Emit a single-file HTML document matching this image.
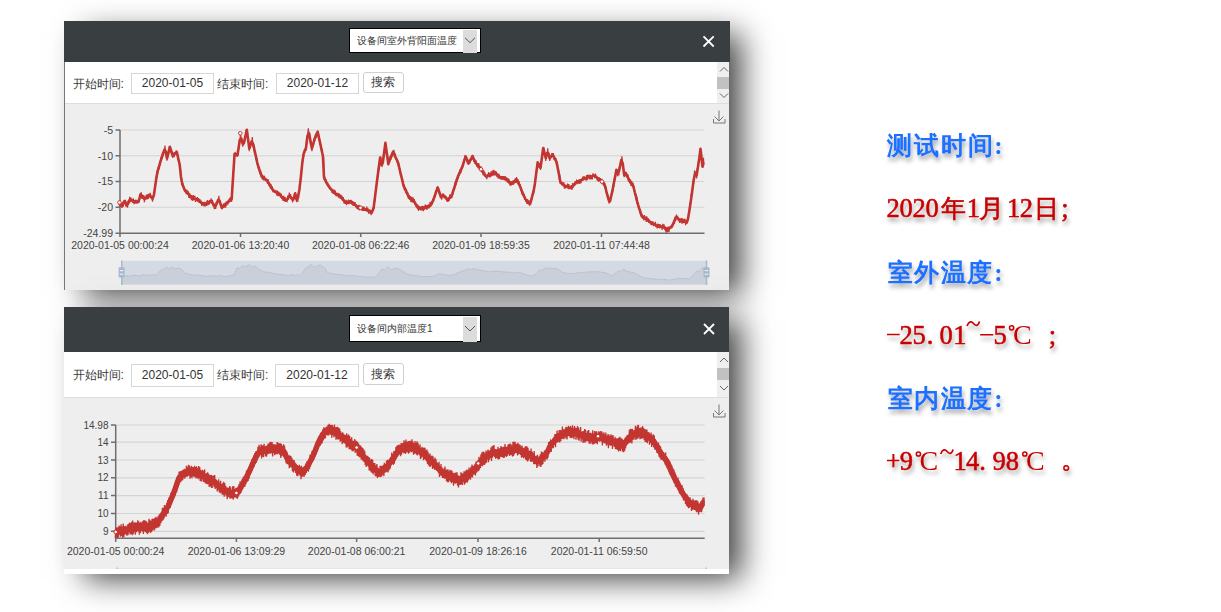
<!DOCTYPE html>
<html><head><meta charset="utf-8">
<style>
*{box-sizing:border-box;margin:0;padding:0}
html,body{width:1221px;height:612px;overflow:hidden;background:#fff}
body{position:relative;font-family:"Liberation Sans",sans-serif;color:#333}
.win{position:absolute;left:64px;width:665px;background:#eee;box-shadow:16px 9px 30px -4px rgba(0,0,0,0.75)}
.hd{position:absolute;left:0;top:0;width:666px;background:#393e41}
.sel{position:absolute;left:285px;width:132px;background:#fff;border:1px solid #000;font-size:10px;color:#333;white-space:nowrap}
.sel span{position:absolute;left:7px}
.arr{position:absolute;left:113px;width:14px;top:1px;bottom:-1px;background:#dcdcdc}
.tb{position:absolute;left:0;width:665px;background:#fff;border-bottom:1px solid #dedede}
.lbl{position:absolute;font-size:12px;color:#3c3c3c;white-space:nowrap}
.inp{position:absolute;border:1px solid #d6d6d6;background:#fff;font-size:12px;color:#333;text-align:center}
.btn{position:absolute;border:1px solid #d0d0d0;border-radius:3px;background:#fff;font-size:12px;color:#3c3c3c;text-align:center}
.sb{position:absolute;left:653px;width:12px;background:#efefef}
.thumb{position:absolute;left:0;width:12px;background:#c1c1c1}
.red{fill:#c80000;stroke:#c80000;stroke-width:0.55px;font-family:"Liberation Serif",serif;font-size:26.5px;font-weight:normal;text-anchor:middle}
.redk{fill:#c80000;stroke:#c80000;stroke-width:0.6px;font-family:"Liberation Serif",serif;font-size:25px;font-weight:500;text-anchor:middle}
svg{position:absolute;left:0;top:0}
.blue{fill:#1f6fff;font-family:"Liberation Serif",serif;font-size:25px;font-weight:bold;text-anchor:middle}
.redc{fill:#c80000;font-family:"Liberation Serif",serif;font-size:28px;text-anchor:middle}
</style></head><body>

<div class="win" style="top:21px;height:269px">
  <div class="hd" style="height:41px"></div>
  <div class="sel" style="top:7px;height:25px;line-height:23px"><span>设备间室外背阳面温度</span><div class="arr"></div></div>
  <div class="tb" style="top:41px;height:42px"></div>
  <div style="position:absolute;left:0;top:41px;width:1px;height:228px;background:#777"></div>
  <div class="lbl" style="left:8.5px;top:53px;line-height:20px">开始时间:</div>
  <div class="inp" style="left:67px;top:52px;width:83px;height:21px;line-height:19px">2020-01-05</div>
  <div class="lbl" style="left:153px;top:53px;line-height:20px">结束时间:</div>
  <div class="inp" style="left:212px;top:52px;width:83px;height:21px;line-height:19px">2020-01-12</div>
  <div class="btn" style="left:298.5px;top:51px;width:41px;height:21px;line-height:19px">搜索</div>
  <div class="sb" style="top:41px;height:41px"><div class="thumb" style="top:15px;height:12px"></div></div>
</div>

<div class="win" style="top:307px;height:267px">
  <div class="hd" style="height:45px;width:665px"></div>
  <div class="sel" style="top:8px;height:27px;line-height:25px"><span>设备间内部温度1</span><div class="arr"></div></div>
  <div class="tb" style="top:45px;height:46px"></div>
  <div class="lbl" style="left:8.5px;top:58px;line-height:20px">开始时间:</div>
  <div class="inp" style="left:67px;top:57px;width:83px;height:23px;line-height:21px">2020-01-05</div>
  <div class="lbl" style="left:153px;top:58px;line-height:20px">结束时间:</div>
  <div class="inp" style="left:211px;top:57px;width:84px;height:23px;line-height:21px">2020-01-12</div>
  <div class="btn" style="left:298.5px;top:56px;width:41px;height:22px;line-height:20px">搜索</div>
  <div class="sb" style="top:45px;height:45px"><div class="thumb" style="top:16px;height:12px"></div></div>
  <div style="position:absolute;left:0;top:262px;width:665px;height:5px;background:#fff"></div>
</div>

<svg width="1221" height="612" viewBox="0 0 1221 612" font-family="Liberation Sans, sans-serif">
  <!-- header icons -->
  <g stroke="#fff" stroke-width="1.8" stroke-linecap="butt">
    <path d="M703.5,36.3 L713.7,46.5 M713.7,36.3 L703.5,46.5"/>
    <path d="M704,324 L714,334 M714,324 L704,334"/>
  </g>
  <g stroke="#555" stroke-width="1" fill="none">
    <path d="M465,37.8 L470,42.6 L475,37.8"/>
    <path d="M465,326 L470,331 L475,326"/>
  </g>
  <!-- scrollbar chevrons -->
  <g stroke="#666" stroke-width="1" fill="none">
    <path d="M720,71.5 L724,67.5 L728,71.5"/>
    <path d="M720,93.5 L724,97.5 L728,93.5"/>
    <path d="M720,362 L724,358 L728,362"/>
    <path d="M720,386 L724,390 L728,386"/>
  </g>
  <!-- download icons -->
  <g stroke="#777" stroke-width="1" fill="none">
    <path d="M719,110.5 L719,121 M714.5,116.5 L719,121 L723.5,116.5 M713.5,119 L713.5,123 L725,123 L725,119"/>
    <path d="M719,404.5 L719,415 M714.5,410.5 L719,415 L723.5,410.5 M713.5,413 L713.5,417 L725,417 L725,413"/>
  </g>

  <!-- chart1 grid -->
  <g stroke="#d3d3d3" stroke-width="1.2">
    <path d="M120,130 H704.5 M120,155.75 H704.5 M120,181.5 H704.5 M120,207.25 H704.5"/>
  </g>
  <g stroke="#6e6e6e" stroke-width="1.5" fill="none">
    <path d="M120,130 V233.2 H704.5"/>
    <path d="M115.5,130 H120 M115.5,155.75 H120 M115.5,181.5 H120 M115.5,207.25 H120 M115.5,233.2 H120"/>
    <path d="M120,233.2 V237 M240.5,233.2 V237 M360.7,233.2 V237 M481,233.2 V237 M601.5,233.2 V237"/>
  </g>
  <g font-size="10.5" fill="#444" text-anchor="end">
    <text x="113" y="133.7">-5</text>
    <text x="113" y="159.5">-10</text>
    <text x="113" y="185.2">-15</text>
    <text x="113" y="211">-20</text>
    <text x="113" y="237.2">-24.99</text>
  </g>
  <g font-size="10.5" fill="#444" text-anchor="middle">
    <text x="120" y="249">2020-01-05 00:00:24</text>
    <text x="240.5" y="249">2020-01-06 13:20:40</text>
    <text x="360.7" y="249">2020-01-08 06:22:46</text>
    <text x="481" y="249">2020-01-09 18:59:35</text>
    <text x="601.5" y="249">2020-01-11 07:44:48</text>
  </g>
  <!-- slider -->
  <rect x="121.7" y="260.8" width="584.8" height="23.6" fill="#d3dae4"/>
  <path d="M121.7,284.4 L121.7,275.9 L124.3,276.4 L127.2,275.6 L129.2,276.5 L132.1,275.3 L137.0,275.6 L140.9,275.8 L142.9,274.6 L146.8,275.3 L152.7,274.7 L155.6,275.3 L159.6,271.2 L163.5,269.1 L167.4,267.3 L169.4,269.0 L172.3,267.2 L175.2,268.7 L179.2,268.1 L182.1,270.0 L184.1,272.7 L188.0,274.1 L193.9,275.0 L199.8,275.3 L203.2,275.8 L206.6,276.2 L210.0,275.9 L213.5,275.6 L217.4,276.5 L221.2,275.3 L224.2,276.7 L227.6,276.2 L231.0,275.6 L234.0,275.2 L236.9,268.2 L239.8,268.5 L242.8,265.5 L245.7,267.0 L249.1,264.6 L251.6,267.4 L254.6,266.1 L257.5,268.2 L260.2,270.0 L264.2,271.9 L269.1,272.3 L272.0,273.1 L275.9,274.0 L279.4,274.3 L282.8,274.7 L288.7,275.6 L291.6,274.7 L295.5,275.5 L297.5,274.4 L299.5,275.8 L302.4,273.1 L305.3,268.5 L308.3,267.3 L310.6,264.4 L314.2,267.4 L317.1,265.9 L320.0,264.9 L323.0,267.0 L325.9,269.1 L326.3,271.9 L329.8,273.1 L335.7,274.3 L341.6,274.7 L347.5,275.8 L353.4,275.6 L359.3,276.4 L365.1,277.0 L369.1,277.0 L374.0,277.4 L375.9,276.7 L379.8,271.9 L382.4,268.8 L384.4,270.5 L387.7,266.7 L390.6,269.9 L395.5,267.9 L400.4,269.7 L406.1,273.5 L412.0,275.2 L415.8,275.5 L420.7,276.7 L424.7,276.6 L428.6,276.5 L433.5,276.1 L436.4,275.0 L439.9,273.5 L443.3,275.0 L445.2,274.6 L450.1,275.5 L454.1,274.7 L459.9,271.9 L464.8,270.2 L467.8,268.7 L470.7,269.7 L474.7,268.7 L477.6,269.7 L483.5,270.6 L488.4,271.9 L493.3,271.4 L497.2,271.1 L503.1,272.0 L509.0,272.1 L513.9,273.1 L518.8,272.1 L523.7,274.0 L528.6,275.6 L532.5,276.1 L536.4,273.7 L539.9,269.6 L542.7,270.5 L545.4,267.3 L548.0,269.0 L549.9,267.8 L551.9,269.0 L554.8,268.4 L558.8,269.6 L562.7,272.7 L566.6,273.2 L570.0,273.4 L573.5,273.5 L579.4,272.6 L583.8,272.3 L588.2,272.0 L592.6,271.8 L597.0,271.7 L600.4,272.1 L603.9,272.5 L606.8,273.1 L611.6,275.9 L614.6,274.0 L618.5,270.8 L620.4,271.5 L624.0,268.8 L626.3,271.5 L628.3,271.2 L631.2,272.5 L635.1,273.1 L640.0,276.1 L644.0,277.9 L647.4,278.3 L650.8,278.7 L654.8,279.0 L658.7,279.4 L662.4,279.5 L666.1,279.6 L668.5,280.2 L674.4,279.4 L677.9,278.1 L682.2,278.5 L685.9,278.7 L689.5,279.0 L692.8,275.8 L695.7,272.5 L696.7,271.1 L698.7,271.7 L700.6,269.9 L702.6,267.6 L703.6,269.6 L704.6,270.3 L705.5,269.3 L706.5,269.7 L706.5,284.4 Z" fill="#c9d0da"/>
  <polyline points="121.7,275.9 124.3,276.4 127.2,275.6 129.2,276.5 132.1,275.3 137.0,275.6 140.9,275.8 142.9,274.6 146.8,275.3 152.7,274.7 155.6,275.3 159.6,271.2 163.5,269.1 167.4,267.3 169.4,269.0 172.3,267.2 175.2,268.7 179.2,268.1 182.1,270.0 184.1,272.7 188.0,274.1 193.9,275.0 199.8,275.3 203.2,275.8 206.6,276.2 210.0,275.9 213.5,275.6 217.4,276.5 221.2,275.3 224.2,276.7 227.6,276.2 231.0,275.6 234.0,275.2 236.9,268.2 239.8,268.5 242.8,265.5 245.7,267.0 249.1,264.6 251.6,267.4 254.6,266.1 257.5,268.2 260.2,270.0 264.2,271.9 269.1,272.3 272.0,273.1 275.9,274.0 279.4,274.3 282.8,274.7 288.7,275.6 291.6,274.7 295.5,275.5 297.5,274.4 299.5,275.8 302.4,273.1 305.3,268.5 308.3,267.3 310.6,264.4 314.2,267.4 317.1,265.9 320.0,264.9 323.0,267.0 325.9,269.1 326.3,271.9 329.8,273.1 335.7,274.3 341.6,274.7 347.5,275.8 353.4,275.6 359.3,276.4 365.1,277.0 369.1,277.0 374.0,277.4 375.9,276.7 379.8,271.9 382.4,268.8 384.4,270.5 387.7,266.7 390.6,269.9 395.5,267.9 400.4,269.7 406.1,273.5 412.0,275.2 415.8,275.5 420.7,276.7 424.7,276.6 428.6,276.5 433.5,276.1 436.4,275.0 439.9,273.5 443.3,275.0 445.2,274.6 450.1,275.5 454.1,274.7 459.9,271.9 464.8,270.2 467.8,268.7 470.7,269.7 474.7,268.7 477.6,269.7 483.5,270.6 488.4,271.9 493.3,271.4 497.2,271.1 503.1,272.0 509.0,272.1 513.9,273.1 518.8,272.1 523.7,274.0 528.6,275.6 532.5,276.1 536.4,273.7 539.9,269.6 542.7,270.5 545.4,267.3 548.0,269.0 549.9,267.8 551.9,269.0 554.8,268.4 558.8,269.6 562.7,272.7 566.6,273.2 570.0,273.4 573.5,273.5 579.4,272.6 583.8,272.3 588.2,272.0 592.6,271.8 597.0,271.7 600.4,272.1 603.9,272.5 606.8,273.1 611.6,275.9 614.6,274.0 618.5,270.8 620.4,271.5 624.0,268.8 626.3,271.5 628.3,271.2 631.2,272.5 635.1,273.1 640.0,276.1 644.0,277.9 647.4,278.3 650.8,278.7 654.8,279.0 658.7,279.4 662.4,279.5 666.1,279.6 668.5,280.2 674.4,279.4 677.9,278.1 682.2,278.5 685.9,278.7 689.5,279.0 692.8,275.8 695.7,272.5 696.7,271.1 698.7,271.7 700.6,269.9 702.6,267.6 703.6,269.6 704.6,270.3 705.5,269.3 706.5,269.7" fill="none" stroke="#b9c1cc" stroke-width="0.9"/>
  <g fill="#a7b7cc">
    <rect x="121" y="260.5" width="1.5" height="24.5"/>
    <rect x="118.6" y="267.2" width="6" height="10.4" rx="1"/>
    <rect x="705.8" y="260.5" width="1.5" height="24.5"/>
    <rect x="703.5" y="267.2" width="6" height="10.4" rx="1"/>
  </g>
  <g fill="#e8edf3">
    <rect x="119.8" y="270" width="3.6" height="1.2"/><rect x="119.8" y="273.6" width="3.6" height="1.2"/>
    <rect x="704.7" y="270" width="3.6" height="1.2"/><rect x="704.7" y="273.6" width="3.6" height="1.2"/>
  </g>
  <defs><clipPath id="cp1"><rect x="116" y="120" width="588.5" height="120"/></clipPath><clipPath id="cp2"><rect x="112" y="415" width="592.7" height="126"/></clipPath></defs>
  <!-- chart1 line -->
  <g clip-path="url(#cp1)">
  <polyline points="119.3,203.2 120.6,204.7 121.9,206.0 123.3,203.4 124.8,200.8 126.1,204.7 127.5,204.6 129.0,200.8 130.3,199.2 131.5,200.1 132.8,200.8 134.0,201.2 135.2,201.4 136.6,201.5 137.8,201.9 139.2,199.6 140.5,194.4 141.8,195.6 143.1,197.4 144.4,199.0 145.7,198.2 147.0,197.5 148.3,196.7 149.6,195.9 151.0,196.7 152.5,198.7 153.9,195.0 155.2,186.1 156.5,177.0 157.8,170.6 159.1,166.3 160.4,161.7 161.8,157.5 163.1,153.7 164.3,149.9 165.7,151.2 167.0,158.5 168.4,152.9 169.9,146.8 171.4,151.4 172.8,156.1 174.1,154.5 175.5,153.3 176.8,151.9 178.2,158.3 179.7,164.8 181.0,177.0 182.3,184.3 183.6,187.1 184.9,190.5 186.3,192.2 187.6,193.3 188.9,194.7 190.2,195.7 191.5,197.1 192.8,197.9 194.1,198.4 195.4,198.9 196.7,199.3 198.0,200.3 199.3,201.4 200.5,202.1 201.7,203.0 203.0,203.8 204.2,204.8 205.5,203.7 206.7,202.9 208.0,202.2 209.2,202.0 210.5,201.1 211.8,201.8 213.1,203.9 214.3,206.2 215.7,205.7 216.9,202.9 218.2,200.4 219.5,200.6 220.7,204.5 221.9,207.9 223.1,206.6 224.4,205.8 225.6,204.5 226.8,203.1 228.1,202.0 229.3,200.8 230.5,199.7 231.7,198.8 233.1,176.5 234.6,153.7 236.1,154.5 237.5,155.0 238.7,147.0 239.9,139.6 241.2,138.4 242.7,143.6 244.1,142.6 245.4,136.0 246.8,129.7 248.1,139.3 249.3,148.6 250.5,145.0 251.7,141.7 253.0,143.5 254.5,150.1 255.9,156.4 257.2,162.6 258.6,167.3 259.9,171.5 261.2,175.0 262.5,177.3 263.7,178.0 265.0,179.1 266.2,179.7 267.5,181.1 269.0,183.5 270.4,185.8 271.6,187.9 273.0,190.1 274.2,191.2 275.5,191.8 276.7,192.6 278.0,193.4 279.2,194.5 280.5,195.4 281.8,196.9 283.1,198.4 284.4,199.6 285.7,200.6 287.1,199.5 288.6,196.6 289.9,196.2 291.2,197.8 292.6,199.5 293.9,198.0 295.2,193.3 296.5,199.3 297.9,197.9 299.4,189.4 300.8,177.6 302.3,162.8 303.6,153.9 304.8,150.8 306.0,147.9 307.5,135.7 309.0,133.1 310.5,141.2 311.9,148.5 313.4,143.4 314.8,138.2 316.2,135.1 317.7,131.7 318.9,137.4 320.1,142.9 321.4,149.1 322.9,156.0 324.0,177.3 325.4,180.3 326.8,183.3 328.2,185.5 329.5,187.3 330.8,188.8 332.1,190.3 333.4,192.2 334.7,192.7 336.0,193.9 337.3,194.5 338.6,194.9 340.0,196.0 341.3,197.4 342.6,199.4 343.9,200.6 345.2,202.5 346.5,202.1 347.8,201.8 349.1,201.4 350.4,201.5 351.8,201.9 353.1,202.9 354.4,204.2 355.7,205.2 357.0,206.4 358.3,207.1 359.6,207.6 360.9,208.2 362.2,209.1 363.5,209.7 364.8,209.8 366.1,209.7 367.4,209.8 368.6,210.7 369.9,211.4 371.1,212.5 372.3,211.3 373.6,208.1 374.9,197.8 376.2,187.4 377.5,177.1 378.8,167.5 380.1,157.6 381.4,164.4 382.8,162.7 384.1,153.0 385.4,142.9 386.9,153.7 388.3,164.0 389.5,160.6 390.8,157.3 392.0,154.1 393.2,151.5 394.4,154.3 395.6,157.3 396.9,159.9 398.1,162.9 399.4,168.2 400.6,173.5 401.9,178.8 403.2,184.1 404.5,187.9 405.8,190.5 407.1,193.2 408.4,195.9 409.7,198.5 411.0,199.3 412.3,199.8 413.6,200.3 414.8,202.6 416.1,204.7 417.3,206.5 418.5,208.4 419.7,208.5 420.9,208.4 422.1,208.4 423.4,208.0 424.6,207.4 425.8,207.0 427.0,206.9 428.2,206.2 429.5,205.5 430.7,204.7 432.0,202.7 433.5,199.4 434.9,195.6 436.3,191.3 437.7,187.4 439.1,191.4 440.4,195.6 441.7,196.5 443.0,194.7 444.2,196.3 445.4,197.3 446.7,198.8 447.9,200.3 449.2,198.2 450.6,196.7 451.9,195.4 453.2,191.2 454.5,187.1 455.8,183.0 457.1,179.0 458.3,175.5 459.5,173.0 460.8,170.4 462.0,167.4 463.2,164.2 464.4,160.1 465.6,156.4 467.1,159.8 468.5,163.4 469.8,161.0 471.2,158.8 472.5,156.0 473.9,159.5 475.4,162.7 476.7,163.9 478.0,165.3 479.3,167.0 480.6,168.4 481.9,170.3 483.1,172.0 484.4,174.2 485.6,176.1 486.8,176.5 488.0,175.4 489.3,174.8 490.5,174.1 491.8,173.4 493.1,172.6 494.4,172.5 495.7,173.0 497.0,174.6 498.3,175.8 499.6,176.9 500.9,178.2 502.2,178.2 503.5,178.4 504.8,178.4 506.1,178.5 507.4,179.7 508.6,181.1 509.9,182.5 511.1,183.8 512.3,183.5 513.5,182.3 514.8,181.0 516.0,179.7 517.2,180.1 518.4,182.8 519.7,185.6 520.9,188.6 522.1,191.9 523.3,194.5 524.6,197.2 525.8,199.7 527.0,201.7 528.3,202.6 529.6,203.9 530.9,201.5 532.2,196.1 533.6,191.2 534.9,183.7 536.3,172.6 537.7,162.3 539.1,165.2 540.5,167.8 541.9,158.0 543.2,148.1 544.5,152.9 545.8,158.1 547.1,153.3 548.4,153.4 549.7,158.5 551.2,156.3 552.6,154.3 553.9,157.2 555.3,159.5 556.6,162.1 557.9,168.9 559.2,175.6 560.5,182.5 561.8,183.5 563.1,184.2 564.4,185.6 565.7,186.2 566.9,186.4 568.2,186.8 569.4,187.1 570.7,187.3 572.0,186.9 573.3,185.6 574.6,184.4 575.9,182.8 577.2,181.6 578.5,181.1 579.7,180.7 581.0,180.2 582.2,179.7 583.5,178.8 584.7,178.3 586.0,177.9 587.3,177.3 588.5,177.2 589.8,176.9 591.0,176.5 592.3,176.3 593.5,175.7 594.8,175.7 596.1,176.9 597.3,178.2 598.6,178.7 599.8,179.9 601.1,180.5 602.4,181.8 603.9,183.5 605.2,186.5 606.4,191.5 607.7,196.3 608.9,200.7 610.1,200.9 611.3,195.5 612.5,190.4 613.8,183.6 615.1,176.9 616.4,169.8 617.7,173.4 618.9,171.6 620.1,165.9 621.3,160.1 622.7,163.2 624.2,175.0 625.5,173.6 626.9,174.9 628.4,178.5 629.8,181.5 631.0,183.1 632.4,184.0 633.6,187.3 634.8,192.3 636.1,197.0 637.3,202.1 638.6,206.5 639.9,210.6 641.2,214.6 642.5,216.7 643.8,217.6 645.0,218.1 646.2,219.1 647.5,219.6 648.7,220.5 649.9,221.8 651.1,222.7 652.3,223.0 653.6,223.9 654.8,224.5 656.0,225.4 657.2,226.1 658.5,226.5 659.7,226.5 660.9,226.6 662.1,226.8 663.4,226.7 664.8,227.8 666.4,230.7 667.7,229.5 669.0,228.7 670.3,227.6 671.6,226.8 673.0,224.2 674.4,221.0 675.8,217.3 677.0,217.8 678.3,218.8 679.5,219.9 680.7,220.5 682.0,220.6 683.2,221.2 684.4,221.5 685.6,222.0 686.8,222.4 688.1,218.4 689.4,210.4 690.7,201.9 692.2,191.3 693.6,180.3 695.3,173.0 696.6,175.5 697.9,167.5 699.2,158.9 700.5,148.8 702.5,166.7 704.4,162.5" fill="none" stroke="#c23531" stroke-width="2.6" stroke-linejoin="round"/>
  <polyline points="119.3,206.3 120.0,202.1 120.6,206.9 121.2,203.4 121.9,207.9 122.6,201.9 123.3,206.6 124.1,200.4 124.8,202.3 125.5,200.2 126.1,206.1 126.8,205.5 127.5,207.6 128.2,201.0 129.0,203.6 129.7,196.9 130.3,202.1 130.9,197.7 131.5,201.4 132.1,199.2 132.8,203.0 133.4,198.4 134.0,204.2 134.6,200.2 135.2,203.7 135.9,199.5 136.6,203.6 137.2,200.6 137.8,203.5 138.5,200.0 139.2,202.7 139.8,195.7 140.5,196.5 141.2,192.2 141.8,198.8 142.4,194.9 143.1,198.6 143.8,195.1 144.4,202.1 145.1,196.6 145.7,199.4 146.4,194.7 147.0,199.4 147.7,194.2 148.3,199.0 149.0,193.5 149.6,197.2 150.3,192.9 151.0,198.2 151.8,195.7 152.5,201.6 153.2,196.7 153.9,196.4 154.5,189.2 155.2,188.0 155.9,179.5 156.5,178.9 157.2,171.5 157.8,172.2 158.5,165.8 159.1,169.3 159.8,162.8 160.4,163.9 161.1,156.7 161.8,158.5 162.4,152.6 163.1,154.9 163.7,149.6 164.3,152.1 165.0,145.5 165.7,152.9 166.3,152.9 167.0,160.7 167.7,153.8 168.4,155.4 169.2,147.8 169.9,148.7 170.6,148.2 171.4,153.8 172.1,151.8 172.8,157.6 173.5,152.6 174.1,157.2 174.8,152.0 175.5,154.6 176.1,150.5 176.8,153.1 177.5,154.1 178.2,160.3 179.0,160.4 179.7,166.8 180.4,168.8 181.0,178.0 181.7,180.6 182.3,185.5 183.0,183.1 183.6,189.8 184.3,186.7 184.9,191.6 185.6,189.6 186.3,194.1 186.9,189.7 187.6,194.6 188.2,191.1 188.9,197.9 189.5,192.7 190.2,198.5 190.8,195.0 191.5,200.2 192.2,195.3 192.8,201.0 193.5,195.2 194.1,199.8 194.8,195.9 195.4,202.0 196.1,197.8 196.7,201.1 197.4,197.0 198.0,201.7 198.6,198.0 199.3,203.0 199.9,199.0 200.5,203.4 201.1,200.6 201.7,206.0 202.3,201.9 203.0,205.4 203.6,202.1 204.2,206.5 204.8,203.2 205.5,205.1 206.1,202.0 206.7,206.0 207.3,200.1 208.0,205.1 208.6,200.8 209.2,204.7 209.8,200.2 210.5,203.3 211.1,198.4 211.8,203.6 212.4,199.7 213.1,206.2 213.7,203.0 214.3,209.2 215.0,206.0 215.7,208.9 216.3,201.8 216.9,204.8 217.6,198.8 218.2,202.0 218.9,195.8 219.5,202.8 220.1,200.9 220.7,207.1 221.3,204.1 221.9,209.3 222.5,204.5 223.1,207.7 223.8,203.4 224.4,207.4 225.0,202.9 225.6,207.7 226.2,201.5 226.8,205.5 227.5,200.9 228.1,203.0 228.7,200.5 229.3,202.2 229.9,197.7 230.5,201.6 231.1,197.2 231.7,201.8 232.4,186.4 233.1,178.0 233.9,162.8 234.6,154.8 235.3,153.1 236.1,156.3 236.8,153.5 237.5,156.8 238.1,149.5 238.7,149.3 239.3,141.0 239.9,141.1 240.5,133.3 241.2,140.4 241.9,139.7 242.7,146.7 243.4,144.4 244.1,143.9 244.8,138.1 245.4,138.4 246.1,129.8 246.8,132.4 247.4,132.6 248.1,140.9 248.7,142.9 249.3,151.1 249.9,144.8 250.5,146.7 251.1,140.9 251.7,143.7 252.3,137.0 253.0,146.1 253.8,145.3 254.5,153.1 255.2,152.5 255.9,158.6 256.5,157.6 257.2,164.2 257.9,164.3 258.6,170.0 259.2,168.5 259.9,173.7 260.6,170.2 261.2,176.3 261.9,175.3 262.5,179.7 263.1,175.7 263.7,180.4 264.4,175.7 265.0,180.5 265.6,177.8 266.2,181.4 266.8,179.0 267.5,184.0 268.2,179.3 269.0,186.1 269.7,183.8 270.4,188.7 271.0,184.3 271.6,189.9 272.3,186.4 273.0,192.1 273.6,189.4 274.2,192.4 274.9,190.0 275.5,192.9 276.1,190.6 276.7,195.3 277.4,190.5 278.0,196.2 278.6,191.5 279.2,196.0 279.9,192.7 280.5,197.4 281.2,193.6 281.8,199.0 282.5,196.2 283.1,200.8 283.8,195.9 284.4,201.1 285.1,197.1 285.7,201.7 286.4,199.6 287.1,201.0 287.9,195.6 288.6,199.7 289.3,192.5 289.9,197.9 290.6,194.1 291.2,199.5 291.9,197.1 292.6,202.5 293.2,198.1 293.9,200.5 294.5,193.2 295.2,196.4 295.9,194.1 296.5,202.2 297.2,199.8 297.9,200.8 298.6,191.7 299.4,192.0 300.1,182.7 300.8,179.3 301.6,168.7 302.3,165.2 303.0,154.4 303.6,156.9 304.2,151.0 304.8,151.8 305.4,148.2 306.0,150.9 306.8,140.0 307.5,137.0 308.3,128.2 309.0,134.2 309.7,134.7 310.5,143.6 311.2,142.3 311.9,151.2 312.6,144.9 313.4,145.6 314.1,139.0 314.8,141.0 315.5,133.8 316.2,138.1 317.0,132.5 317.7,134.6 318.3,131.6 318.9,140.5 319.5,138.7 320.1,144.3 320.7,144.6 321.4,150.2 322.1,149.8 322.9,158.8 323.6,157.0 324.0,180.1 324.7,176.6 325.4,181.9 326.1,180.6 326.8,184.5 327.5,182.1 328.2,186.9 328.8,184.6 329.5,189.2 330.1,186.8 330.8,190.4 331.4,188.1 332.1,192.9 332.7,189.4 333.4,193.9 334.1,189.5 334.7,194.8 335.4,190.5 336.0,196.2 336.7,193.4 337.3,196.4 338.0,192.8 338.6,197.6 339.3,193.6 340.0,198.6 340.6,194.5 341.3,198.9 341.9,195.6 342.6,200.6 343.2,197.2 343.9,202.0 344.5,200.7 345.2,203.9 345.9,199.8 346.5,205.2 347.2,200.8 347.8,203.9 348.5,199.6 349.1,204.1 349.8,200.1 350.4,203.6 351.1,199.8 351.8,204.7 352.4,201.0 353.1,206.0 353.7,202.0 354.4,205.6 355.0,202.1 355.7,207.3 356.3,204.7 357.0,208.8 357.6,205.4 358.3,209.8 358.9,204.8 359.6,210.4 360.2,205.6 360.9,210.0 361.5,206.7 362.2,210.9 362.8,206.5 363.5,210.9 364.1,206.7 364.8,210.8 365.5,208.2 366.1,211.3 366.8,206.5 367.4,212.0 368.0,208.2 368.6,213.6 369.2,209.6 369.9,213.5 370.5,209.7 371.1,215.2 371.7,210.1 372.3,213.7 373.0,207.9 373.6,209.8 374.2,201.7 374.9,200.6 375.6,190.1 376.2,190.1 376.9,181.1 377.5,179.1 378.1,169.6 378.8,169.8 379.5,161.3 380.1,159.6 380.8,158.1 381.4,165.9 382.1,166.3 382.8,164.3 383.4,155.4 384.1,155.8 384.7,146.6 385.4,144.2 386.1,146.8 386.9,155.4 387.6,156.8 388.3,165.3 388.9,160.6 389.5,162.0 390.1,155.9 390.8,159.9 391.4,154.6 392.0,157.3 392.6,151.6 393.2,153.4 393.8,149.8 394.4,157.1 395.0,153.4 395.6,159.3 396.3,157.3 396.9,162.3 397.5,160.1 398.1,164.3 398.7,163.8 399.4,169.3 400.0,169.1 400.6,176.2 401.3,173.6 401.9,180.9 402.5,179.1 403.2,186.1 403.8,185.4 404.5,190.3 405.1,187.2 405.8,193.1 406.4,188.8 407.1,195.2 407.7,192.3 408.4,198.6 409.0,195.4 409.7,200.0 410.4,196.1 411.0,202.2 411.6,196.7 412.3,202.4 413.0,197.4 413.6,202.8 414.2,199.1 414.8,204.6 415.4,201.9 416.1,207.1 416.7,204.5 417.3,208.4 417.9,204.7 418.5,210.9 419.1,206.1 419.7,210.0 420.3,206.6 420.9,210.4 421.5,206.1 422.1,210.3 422.8,205.9 423.4,211.1 424.0,206.3 424.6,209.8 425.2,204.6 425.8,208.9 426.4,205.1 427.0,210.0 427.6,205.5 428.2,208.4 428.9,204.6 429.5,208.3 430.1,201.8 430.7,206.8 431.3,203.2 432.0,205.0 432.8,198.8 433.5,202.0 434.2,195.3 434.9,198.0 435.6,190.6 436.3,193.4 437.0,187.3 437.7,190.5 438.4,187.8 439.1,193.9 439.7,191.8 440.4,198.3 441.1,196.3 441.7,199.7 442.4,193.8 443.0,195.9 443.6,193.9 444.2,198.1 444.8,195.7 445.4,199.2 446.1,196.0 446.7,201.4 447.3,197.7 447.9,201.9 448.6,197.7 449.2,200.9 449.9,194.3 450.6,198.9 451.2,194.6 451.9,198.2 452.5,191.4 453.2,192.7 453.8,187.9 454.5,189.8 455.1,182.1 455.8,185.4 456.4,178.8 457.1,181.3 457.7,175.7 458.3,178.7 458.9,172.4 459.5,175.4 460.1,169.1 460.8,173.2 461.4,166.9 462.0,169.0 462.6,164.1 463.2,165.4 463.8,159.4 464.4,161.9 465.0,155.3 465.6,158.0 466.3,156.1 467.1,161.4 467.8,159.6 468.5,164.8 469.2,161.3 469.8,163.6 470.5,158.4 471.2,160.4 471.8,155.8 472.5,158.1 473.2,155.8 473.9,161.9 474.7,158.7 475.4,164.5 476.1,160.3 476.7,166.8 477.4,163.7 478.0,168.1 478.7,163.1 479.3,169.7 480.0,166.2 480.6,171.2 481.3,166.7 481.9,171.3 482.5,170.1 483.1,175.1 483.8,170.5 484.4,175.7 485.0,174.0 485.6,177.4 486.2,175.5 486.8,179.2 487.4,174.1 488.0,176.7 488.6,172.2 489.3,177.5 489.9,173.3 490.5,177.1 491.1,171.3 491.8,176.1 492.4,170.5 493.1,175.6 493.7,169.8 494.4,175.3 495.0,170.9 495.7,175.5 496.3,171.6 497.0,177.2 497.6,173.2 498.3,178.8 498.9,173.9 499.6,178.4 500.2,175.9 500.9,179.5 501.6,176.2 502.2,179.4 502.9,176.1 503.5,179.7 504.2,176.2 504.8,180.5 505.5,176.3 506.1,181.4 506.8,177.7 507.4,182.6 508.0,178.3 508.6,183.4 509.2,179.3 509.9,185.4 510.5,181.4 511.1,185.7 511.7,181.2 512.3,184.7 512.9,180.7 513.5,184.7 514.1,180.4 514.8,183.3 515.4,178.0 516.0,182.8 516.6,177.0 517.2,183.3 517.8,179.3 518.4,184.9 519.0,181.2 519.7,186.7 520.3,184.4 520.9,191.0 521.5,188.6 522.1,194.8 522.7,191.4 523.3,196.6 524.0,193.7 524.6,199.9 525.2,197.0 525.8,201.6 526.4,199.0 527.0,204.0 527.7,199.2 528.3,204.2 529.0,200.4 529.6,205.8 530.3,202.1 530.9,203.1 531.6,196.7 532.2,199.3 532.9,191.1 533.6,193.9 534.2,187.0 534.9,185.3 535.6,176.4 536.3,174.8 537.0,165.0 537.7,165.1 538.4,162.7 539.1,167.8 539.8,163.5 540.5,170.0 541.2,161.8 541.9,159.6 542.5,152.0 543.2,149.5 543.9,147.5 544.5,155.3 545.1,153.0 545.8,160.9 546.4,152.6 547.1,155.6 547.7,148.4 548.4,155.7 549.0,153.5 549.7,160.9 550.4,155.1 551.2,157.8 551.9,153.0 552.6,156.3 553.3,153.2 553.9,158.4 554.6,157.0 555.3,160.6 555.9,158.0 556.6,165.1 557.2,163.2 557.9,170.7 558.5,169.3 559.2,178.3 559.9,176.8 560.5,184.0 561.1,181.2 561.8,185.4 562.5,182.0 563.1,186.2 563.8,182.4 564.4,188.6 565.0,184.7 565.7,188.5 566.3,185.3 566.9,187.6 567.5,183.6 568.2,189.1 568.8,184.1 569.4,189.1 570.0,186.0 570.7,189.1 571.3,185.2 572.0,189.9 572.6,183.0 573.3,187.6 573.9,183.3 574.6,185.6 575.2,181.1 575.9,184.3 576.5,180.8 577.2,182.7 577.8,180.2 578.5,183.6 579.1,179.7 579.7,183.8 580.3,179.1 581.0,183.1 581.6,178.5 582.2,180.7 582.9,176.7 583.5,180.3 584.1,176.1 584.7,179.7 585.4,177.1 586.0,180.6 586.6,175.0 587.3,180.2 587.9,174.6 588.5,178.4 589.1,174.9 589.8,179.5 590.4,174.7 591.0,179.5 591.7,175.1 592.3,179.4 592.9,173.4 593.5,176.7 594.2,174.5 594.8,178.1 595.4,173.6 596.1,178.1 596.7,175.9 597.3,180.8 597.9,177.1 598.6,181.6 599.2,177.3 599.8,181.0 600.4,178.2 601.1,182.8 601.7,178.9 602.4,184.3 603.2,181.4 603.9,186.2 604.6,182.5 605.2,188.9 605.8,186.5 606.4,193.4 607.0,191.8 607.7,199.0 608.3,195.4 608.9,203.5 609.5,201.0 610.1,202.5 610.7,197.2 611.3,198.7 611.9,190.4 612.5,193.2 613.1,185.5 613.8,185.9 614.5,177.0 615.1,179.8 615.8,170.9 616.4,171.5 617.0,169.7 617.7,176.3 618.3,172.9 618.9,174.1 619.5,166.2 620.1,168.8 620.7,160.1 621.3,161.7 621.9,156.4 622.7,164.7 623.4,167.0 624.2,177.3 624.9,171.6 625.5,176.5 626.2,171.9 626.9,177.7 627.7,174.0 628.4,181.4 629.1,178.4 629.8,183.1 630.4,179.4 631.0,185.9 631.7,180.9 632.4,187.0 633.0,182.8 633.6,188.5 634.2,187.7 634.8,195.1 635.5,193.1 636.1,199.6 636.7,196.4 637.3,203.6 637.9,202.0 638.6,208.9 639.2,206.5 639.9,212.1 640.6,211.1 641.2,217.3 641.9,213.7 642.5,218.7 643.1,215.9 643.8,220.4 644.4,215.1 645.0,219.7 645.6,216.5 646.2,222.0 646.8,216.4 647.5,221.7 648.1,218.1 648.7,222.8 649.3,219.8 649.9,223.3 650.5,221.0 651.1,225.2 651.7,221.0 652.3,225.2 653.0,221.5 653.6,226.1 654.2,223.0 654.8,225.6 655.4,221.7 656.0,227.2 656.6,224.6 657.2,228.5 657.8,223.6 658.5,227.8 659.1,224.0 659.7,228.3 660.3,224.3 660.9,227.6 661.5,225.5 662.1,230.0 662.8,223.8 663.4,228.7 664.0,224.4 664.8,229.4 665.6,226.6 666.4,232.7 667.1,227.0 667.7,232.2 668.4,226.5 669.0,231.8 669.7,226.5 670.3,228.7 671.0,225.7 671.6,228.2 672.3,224.8 673.0,225.3 673.7,220.4 674.4,223.9 675.1,217.4 675.8,220.4 676.4,214.6 677.0,218.9 677.6,215.8 678.3,220.6 678.9,218.0 679.5,223.0 680.1,218.6 680.7,222.7 681.3,218.2 682.0,223.7 682.6,218.4 683.2,223.1 683.8,219.2 684.4,222.8 685.0,218.7 685.6,225.2 686.2,220.7 686.8,223.5 687.4,221.0 688.1,220.2 688.7,211.4 689.4,213.4 690.0,203.4 690.7,203.0 691.4,193.8 692.2,193.8 692.9,183.3 693.6,183.5 694.6,170.3 695.3,174.3 695.9,171.7 696.6,178.5 697.2,168.9 697.9,169.1 698.5,161.4 699.2,161.6 699.8,152.6 700.5,150.5 701.5,160.3 702.5,168.0 703.4,157.7 704.4,163.9" fill="none" stroke="#c23531" stroke-width="1.2"/>
  </g>

  <rect x="117" y="568" width="588" height="1" fill="#e2e4e8"/>
  <rect x="116.5" y="567.5" width="1.2" height="1.5" fill="#a7b7cc"/><rect x="705.5" y="567.5" width="1.2" height="1.5" fill="#a7b7cc"/>
  <!-- chart2 grid -->
  <g stroke="#d3d3d3" stroke-width="1.2">
    <path d="M115.7,425 H704.7 M115.7,442.2 H704.7 M115.7,460 H704.7 M115.7,477.8 H704.7 M115.7,495.6 H704.7 M115.7,513.5 H704.7 M115.7,531.3 H704.7"/>
  </g>
  <g stroke="#6e6e6e" stroke-width="1.5" fill="none">
    <path d="M115.7,425 V538.3 H704.7"/>
    <path d="M111,425 H115.7 M111,442.2 H115.7 M111,460 H115.7 M111,477.8 H115.7 M111,495.6 H115.7 M111,513.5 H115.7 M111,531.3 H115.7"/>
    <path d="M115.7,538.3 V542 M236.4,538.3 V542 M356.6,538.3 V542 M478,538.3 V542 M599.2,538.3 V542"/>
  </g>
  <g font-size="10" fill="#444" text-anchor="end">
    <text x="108.5" y="428.6">14.98</text>
    <text x="108.5" y="445.8">14</text>
    <text x="108.5" y="463.6">13</text>
    <text x="108.5" y="481.4">12</text>
    <text x="108.5" y="499.2">11</text>
    <text x="108.5" y="517.1">10</text>
    <text x="108.5" y="534.9">9</text>
  </g>
  <g font-size="10.5" fill="#444" text-anchor="middle">
    <text x="115.7" y="554.5">2020-01-05 00:00:24</text>
    <text x="236.4" y="554.5">2020-01-06 13:09:29</text>
    <text x="356.6" y="554.5">2020-01-08 06:00:21</text>
    <text x="478" y="554.5">2020-01-09 18:26:16</text>
    <text x="599.2" y="554.5">2020-01-11 06:59:50</text>
  </g>
  <g clip-path="url(#cp2)"><polyline points="115.3,532.6 116.9,531.6 118.5,530.8 120.1,531.1 121.6,531.1 123.2,530.6 124.8,530.6 126.4,530.3 128.0,529.3 129.6,528.8 131.2,528.3 132.7,527.6 134.3,527.5 135.8,527.7 137.3,527.3 138.8,527.5 140.4,527.0 141.9,527.1 143.4,527.4 144.9,526.9 146.4,527.2 148.0,526.6 149.5,526.0 151.0,525.5 152.5,525.6 154.0,524.5 155.5,523.3 157.0,522.4 158.7,520.3 160.3,519.1 161.9,516.1 163.5,513.3 165.1,511.2 166.7,508.5 168.2,506.1 169.8,502.4 171.4,498.4 173.0,494.8 174.5,490.6 176.0,486.6 177.6,481.6 179.1,478.0 180.7,477.1 182.2,475.4 183.8,474.0 185.3,473.1 186.9,472.3 188.4,471.6 190.0,471.8 191.5,472.5 193.1,472.2 194.6,472.1 196.1,472.4 197.7,473.1 199.2,473.8 200.7,474.7 202.2,475.6 203.7,476.6 205.2,476.7 206.7,478.3 208.2,479.0 209.7,480.6 211.2,481.0 212.7,481.2 214.2,481.6 215.7,482.9 217.2,484.7 218.7,485.9 220.2,486.9 221.7,488.1 223.2,489.0 224.7,490.1 226.2,490.6 227.7,492.2 229.2,492.9 230.7,492.9 232.2,493.6 233.8,493.0 235.4,493.4 237.0,493.2 238.6,491.6 240.1,488.5 241.7,485.7 243.3,482.7 244.9,480.0 246.5,477.3 248.1,473.9 249.7,470.7 251.2,467.1 252.7,463.7 254.2,461.0 255.8,457.5 257.4,454.9 259.1,451.9 260.6,450.8 262.1,450.5 263.6,450.1 265.1,450.1 266.6,449.7 268.1,449.4 269.6,449.2 271.1,448.9 272.6,449.0 274.1,449.3 275.6,448.5 277.1,448.5 278.7,449.5 280.3,450.4 281.9,450.7 283.5,450.8 285.1,453.8 286.6,457.3 288.2,460.2 289.8,462.1 291.4,463.3 293.0,464.7 294.6,467.1 296.2,468.2 297.8,469.7 299.4,470.6 301.0,472.5 302.6,471.2 304.2,470.7 305.8,468.4 307.4,466.6 309.0,463.5 310.5,460.9 312.1,457.7 313.7,454.2 315.3,450.5 316.9,446.3 318.5,442.3 320.1,438.9 321.7,436.2 323.3,433.8 324.9,432.2 326.5,430.4 328.1,430.4 329.7,430.6 331.3,430.8 332.9,431.2 334.5,432.0 336.0,433.4 337.6,433.7 339.2,435.1 340.7,436.5 342.2,437.9 343.7,438.7 345.2,439.2 346.7,440.7 348.2,441.0 349.7,442.5 351.2,443.7 352.7,444.7 354.2,446.2 355.7,447.1 357.2,448.5 358.7,450.3 360.2,452.1 361.7,454.0 363.2,455.7 364.7,458.2 366.2,460.1 367.7,461.2 369.2,463.4 370.7,464.8 372.2,466.8 373.7,468.1 375.3,469.5 376.9,470.9 378.5,471.5 380.1,472.5 381.7,471.2 383.3,469.7 384.9,468.1 386.5,466.8 388.1,465.7 389.7,463.1 391.2,460.7 392.8,458.5 394.4,456.7 395.9,454.3 397.5,452.5 399.0,450.2 400.5,448.8 402.0,447.6 403.5,447.4 405.0,446.9 406.5,446.3 408.0,446.5 409.5,446.5 411.0,446.3 412.5,446.3 414.0,446.9 415.5,447.5 417.0,448.2 418.5,450.0 420.0,451.6 421.5,452.0 423.0,453.0 424.5,454.4 426.0,456.0 427.5,457.9 429.0,459.4 430.5,460.4 432.0,461.3 433.5,463.1 435.0,464.5 436.5,466.2 438.0,467.9 439.5,469.7 441.0,471.3 442.5,472.7 444.0,473.5 445.5,473.8 447.0,474.9 448.5,475.6 450.0,476.3 451.5,476.9 453.0,477.8 454.5,478.7 456.0,479.1 457.5,479.8 459.0,480.3 460.5,479.3 462.0,478.1 463.5,477.3 465.0,477.5 466.5,477.0 468.0,475.2 469.5,473.7 471.0,472.4 472.5,470.3 474.0,469.4 475.5,468.5 477.0,466.2 478.5,464.3 480.0,462.7 481.5,460.2 483.0,458.1 484.5,458.0 486.0,456.9 487.5,455.8 489.0,455.3 490.5,454.1 492.0,453.1 493.5,451.9 495.0,452.5 496.5,453.3 498.0,452.7 499.5,452.2 501.0,452.1 502.5,451.5 504.0,450.8 505.5,450.3 507.0,450.3 508.5,450.1 510.0,449.3 511.5,449.5 513.0,449.3 514.5,449.2 516.0,449.3 517.5,449.2 519.0,449.1 520.5,450.3 522.0,451.0 523.5,451.9 525.0,452.4 526.5,453.9 528.0,454.1 529.5,454.2 531.1,455.0 532.6,456.9 534.2,458.6 535.8,460.0 537.4,461.4 538.9,460.3 540.4,459.6 541.9,458.3 543.4,457.1 544.9,456.1 546.5,453.0 548.0,450.6 549.6,447.7 551.2,445.0 552.8,442.7 554.4,441.3 556.0,439.4 557.6,436.9 559.2,436.0 560.8,435.2 562.4,433.7 564.0,433.3 565.5,432.8 567.0,433.1 568.5,432.3 570.0,432.4 571.5,432.0 573.0,431.7 574.5,432.0 576.0,432.3 577.5,432.7 579.1,434.2 580.6,434.5 582.1,435.5 583.6,435.5 585.1,436.8 586.6,437.1 588.1,437.5 589.7,437.4 591.2,436.8 592.7,437.4 594.2,437.0 595.7,437.0 597.3,437.4 598.8,436.9 600.3,437.4 601.9,438.2 603.4,438.7 604.9,439.4 606.4,440.2 607.9,440.7 609.4,441.2 611.0,440.9 612.5,441.6 614.0,442.6 615.5,443.3 617.0,443.6 618.5,444.3 620.0,443.9 621.5,445.0 623.0,444.9 624.6,443.9 626.2,441.3 627.8,439.1 629.4,437.2 630.9,436.1 632.4,435.3 633.9,434.6 635.4,432.7 636.9,432.2 638.4,431.4 640.0,432.3 641.6,432.6 643.2,433.8 644.7,434.7 646.3,435.1 647.9,435.8 649.5,437.6 651.1,438.9 652.7,440.0 654.3,442.1 655.9,445.2 657.5,447.3 659.1,450.6 660.6,452.5 662.1,455.1 663.6,457.2 665.1,458.9 666.6,460.8 668.2,463.7 669.7,467.8 671.3,471.7 672.9,474.8 674.5,478.2 676.0,481.4 677.5,483.5 679.0,486.6 680.5,489.5 682.0,492.3 683.5,494.6 685.0,496.8 686.5,498.5 688.0,500.5 689.5,502.8 691.0,504.2 692.5,504.8 694.0,505.1 695.5,505.5 697.0,507.3 698.5,507.8 700.0,508.5 701.6,505.7 703.1,503.0 704.7,500.5" fill="none" stroke="#c23531" stroke-width="5.5" stroke-linejoin="round"/>
  <polyline points="115.3,538.1 115.8,528.1 116.4,537.4 116.9,527.4 117.4,538.0 117.9,527.2 118.5,537.2 119.0,525.6 119.5,534.7 120.1,526.2 120.6,536.8 121.1,524.4 121.6,536.0 122.2,526.5 122.7,537.7 123.2,523.6 123.8,537.3 124.3,526.2 124.8,534.8 125.4,525.7 125.9,534.2 126.4,526.6 126.9,535.8 127.5,524.6 128.0,535.1 128.5,523.8 129.1,532.4 129.6,522.6 130.1,534.5 130.7,523.0 131.2,534.0 131.7,521.9 132.2,535.3 132.7,520.6 133.2,534.3 133.7,522.7 134.3,532.2 134.8,522.3 135.3,534.7 135.8,522.6 136.3,532.3 136.8,522.6 137.3,531.4 137.8,520.2 138.3,531.4 138.8,521.6 139.4,534.7 139.9,522.7 140.4,532.9 140.9,521.7 141.4,531.0 141.9,522.8 142.4,531.5 142.9,521.0 143.4,534.0 143.9,520.0 144.4,531.1 144.9,520.6 145.4,531.9 145.9,520.7 146.4,532.9 146.9,521.9 147.5,534.2 148.0,523.1 148.5,532.7 149.0,518.7 149.5,531.5 150.0,520.1 150.5,533.1 151.0,521.1 151.5,531.9 152.0,519.1 152.5,530.6 153.0,518.6 153.5,529.5 154.0,518.9 154.5,530.4 155.0,517.7 155.5,528.1 156.0,516.7 156.5,528.3 157.0,518.0 157.6,527.5 158.1,516.2 158.7,527.4 159.2,514.5 159.8,526.0 160.3,513.5 160.8,523.3 161.4,512.3 161.9,520.1 162.4,507.9 163.0,520.2 163.5,507.7 164.0,518.4 164.5,505.0 165.1,515.7 165.6,506.5 166.1,516.6 166.7,503.1 167.2,514.1 167.7,500.0 168.2,513.2 168.8,497.7 169.3,506.9 169.8,497.4 170.3,508.0 170.9,492.9 171.4,502.4 171.9,493.3 172.4,500.3 173.0,490.9 173.5,498.6 174.0,485.8 174.5,496.2 175.0,483.9 175.5,491.8 176.0,481.5 176.6,492.3 177.1,477.1 177.6,486.9 178.1,474.8 178.6,484.8 179.1,471.5 179.6,482.1 180.2,471.4 180.7,482.1 181.2,471.1 181.7,480.7 182.2,470.4 182.7,480.3 183.3,469.7 183.8,477.5 184.3,468.9 184.8,478.6 185.3,469.4 185.9,476.8 186.4,465.8 186.9,476.9 187.4,467.2 187.9,476.0 188.4,464.8 189.0,475.5 189.5,465.6 190.0,478.8 190.5,467.3 191.0,477.3 191.5,465.8 192.0,478.2 192.6,467.0 193.1,475.9 193.6,467.1 194.1,477.3 194.6,465.8 195.1,476.9 195.6,467.0 196.1,478.5 196.6,466.2 197.2,477.7 197.7,468.0 198.2,479.3 198.7,466.1 199.2,478.1 199.7,467.1 200.2,480.9 200.7,469.7 201.2,481.4 201.7,470.6 202.2,479.3 202.7,469.7 203.2,481.6 203.7,471.0 204.2,482.0 204.7,469.4 205.2,483.2 205.7,473.7 206.2,483.6 206.7,473.0 207.2,484.1 207.7,472.3 208.2,484.1 208.7,473.8 209.2,487.0 209.7,475.3 210.2,486.0 210.7,475.1 211.2,487.8 211.7,474.9 212.2,487.9 212.7,476.1 213.2,485.1 213.7,475.5 214.2,487.3 214.7,475.0 215.2,488.9 215.7,479.0 216.2,488.0 216.7,480.3 217.2,491.5 217.7,481.5 218.2,489.9 218.7,479.4 219.2,492.1 219.7,482.7 220.2,493.1 220.7,480.7 221.2,492.8 221.7,484.4 222.2,494.8 222.7,483.4 223.2,494.8 223.7,481.7 224.2,496.8 224.7,483.1 225.2,494.3 225.7,485.8 226.2,496.2 226.7,487.5 227.2,499.3 227.7,487.6 228.2,496.8 228.7,487.8 229.2,497.4 229.7,486.0 230.2,498.6 230.7,487.4 231.2,498.3 231.7,489.7 232.2,498.4 232.7,486.4 233.3,499.6 233.8,486.0 234.3,497.8 234.8,489.0 235.4,497.1 235.9,487.8 236.4,498.1 237.0,487.9 237.5,498.6 238.0,486.5 238.6,496.5 239.1,484.0 239.6,493.9 240.1,481.3 240.7,493.1 241.2,482.9 241.7,490.4 242.2,479.3 242.8,488.8 243.3,476.9 243.8,487.0 244.3,476.4 244.9,486.7 245.4,474.3 245.9,484.1 246.5,470.5 247.0,481.9 247.5,469.9 248.1,481.1 248.6,467.1 249.1,478.8 249.7,467.0 250.2,474.5 250.7,462.1 251.2,470.8 251.7,459.4 252.2,468.7 252.7,457.8 253.2,467.4 253.7,455.2 254.2,466.7 254.7,453.0 255.3,464.0 255.8,451.4 256.4,462.7 256.9,451.1 257.4,459.3 258.0,446.9 258.5,456.9 259.1,444.7 259.6,455.3 260.1,446.8 260.6,454.7 261.1,444.2 261.6,458.4 262.1,445.3 262.6,456.8 263.1,445.5 263.6,457.2 264.1,443.7 264.6,453.9 265.1,446.3 265.6,456.2 266.1,446.0 266.6,456.6 267.1,445.2 267.6,454.2 268.1,443.6 268.6,454.0 269.1,443.2 269.6,453.3 270.1,441.8 270.6,453.6 271.1,442.0 271.6,452.9 272.1,442.0 272.6,456.4 273.1,444.3 273.6,453.0 274.1,444.3 274.6,455.1 275.1,444.4 275.6,454.2 276.1,444.8 276.6,454.2 277.1,442.1 277.6,454.2 278.1,442.8 278.7,453.5 279.2,443.2 279.7,454.6 280.3,443.2 280.8,458.0 281.3,443.8 281.9,456.3 282.4,445.7 282.9,455.5 283.5,444.3 284.0,456.9 284.5,445.5 285.1,457.7 285.6,449.9 286.1,463.3 286.6,451.4 287.1,464.2 287.7,455.5 288.2,464.3 288.7,456.2 289.3,468.2 289.8,455.2 290.3,467.2 290.9,456.0 291.4,466.9 291.9,457.8 292.5,471.5 293.0,459.8 293.5,472.5 294.1,460.0 294.6,470.8 295.1,462.6 295.7,473.0 296.2,463.8 296.7,475.6 297.3,465.1 297.8,476.3 298.3,465.7 298.9,474.2 299.4,464.9 299.9,475.4 300.5,466.5 301.0,479.2 301.5,465.7 302.1,476.8 302.6,467.5 303.1,476.5 303.7,467.0 304.2,476.8 304.7,466.0 305.3,474.9 305.8,463.5 306.3,472.9 306.9,461.2 307.4,470.7 307.9,461.1 308.4,471.6 309.0,458.7 309.5,469.2 310.0,454.8 310.5,466.4 311.1,455.4 311.6,462.3 312.1,450.7 312.6,460.4 313.2,450.2 313.7,459.8 314.2,448.7 314.8,457.1 315.3,446.3 315.8,454.9 316.4,442.1 316.9,451.3 317.4,440.8 318.0,448.6 318.5,438.0 319.0,445.0 319.6,435.7 320.1,445.9 320.6,432.7 321.2,444.2 321.7,432.6 322.2,443.1 322.8,429.4 323.3,440.5 323.8,427.2 324.4,438.7 324.9,427.8 325.4,438.2 326.0,427.3 326.5,434.9 327.0,426.4 327.6,435.5 328.1,424.8 328.6,435.4 329.2,423.7 329.7,434.4 330.2,424.7 330.8,434.7 331.3,425.0 331.8,437.7 332.4,424.7 332.9,434.9 333.4,426.9 333.9,437.2 334.5,424.6 335.0,436.1 335.5,427.2 336.0,439.7 336.6,427.0 337.1,438.7 337.6,426.9 338.1,439.8 338.7,427.9 339.2,438.7 339.7,428.6 340.2,441.6 340.7,431.4 341.2,440.7 341.7,433.1 342.2,444.3 342.7,432.3 343.2,442.6 343.7,433.8 344.2,443.2 344.7,434.8 345.2,443.6 345.7,435.1 346.2,447.5 346.7,433.2 347.2,447.4 347.7,435.2 348.2,446.5 348.7,434.6 349.2,449.3 349.7,436.0 350.2,449.1 350.7,438.9 351.2,449.7 351.7,437.2 352.2,451.2 352.7,440.8 353.2,451.2 353.7,440.9 354.2,450.3 354.7,439.1 355.2,452.9 355.7,440.6 356.2,451.5 356.7,440.9 357.2,455.8 357.7,441.9 358.2,455.9 358.7,443.5 359.2,457.3 359.7,445.2 360.2,457.3 360.7,445.6 361.2,459.6 361.7,447.0 362.2,459.6 362.7,447.9 363.2,461.4 363.7,449.3 364.2,461.1 364.7,450.8 365.2,465.1 365.7,455.0 366.2,467.0 366.7,456.0 367.2,465.2 367.7,455.9 368.2,466.4 368.7,456.9 369.2,470.5 369.7,457.8 370.2,470.8 370.7,459.7 371.2,472.1 371.7,459.1 372.2,473.0 372.7,459.7 373.2,474.4 373.7,463.0 374.3,472.2 374.8,463.0 375.3,476.3 375.9,465.2 376.4,476.5 376.9,464.0 377.5,477.9 378.0,467.8 378.5,476.9 379.1,468.8 379.6,476.6 380.1,465.8 380.7,477.0 381.2,465.7 381.7,476.5 382.3,466.0 382.8,474.7 383.3,464.7 383.9,476.1 384.4,462.7 384.9,472.8 385.5,464.2 386.0,472.2 386.5,460.5 387.1,471.8 387.6,459.9 388.1,472.4 388.6,461.3 389.1,470.3 389.7,459.5 390.2,468.7 390.7,457.1 391.2,465.3 391.8,452.5 392.3,463.9 392.8,454.1 393.3,465.0 393.9,451.1 394.4,463.8 394.9,450.8 395.4,460.8 395.9,447.0 396.4,458.7 396.9,445.5 397.5,456.8 398.0,445.2 398.5,455.0 399.0,444.5 399.5,453.1 400.0,445.0 400.5,456.1 401.0,443.2 401.5,454.7 402.0,443.1 402.5,452.5 403.0,443.3 403.5,453.1 404.0,440.3 404.5,452.9 405.0,441.9 405.5,453.9 406.0,439.6 406.5,452.5 407.0,441.8 407.5,452.1 408.0,441.2 408.5,453.7 409.0,441.1 409.5,452.7 410.0,440.7 410.5,451.4 411.0,440.7 411.5,452.2 412.0,439.3 412.5,451.8 413.0,441.9 413.5,454.6 414.0,443.2 414.5,454.0 415.0,441.0 415.5,453.3 416.0,442.9 416.5,454.8 417.0,441.2 417.5,455.4 418.0,442.8 418.5,453.7 419.0,445.7 419.5,455.1 420.0,444.3 420.5,459.0 421.0,448.1 421.5,457.8 422.0,446.7 422.5,456.4 423.0,447.9 423.5,460.2 424.0,447.5 424.5,459.0 425.0,447.9 425.5,459.9 426.0,450.4 426.5,461.5 427.0,449.5 427.5,464.0 428.0,451.8 428.5,465.3 429.0,454.4 429.5,466.8 430.0,453.6 430.5,466.6 431.0,456.1 431.5,465.2 432.0,455.5 432.5,469.0 433.0,456.2 433.5,468.0 434.0,459.4 434.5,469.6 435.0,457.5 435.5,469.6 436.0,459.4 436.5,470.4 437.0,462.4 437.5,471.0 438.0,463.2 438.5,473.3 439.0,461.7 439.5,477.0 440.0,466.2 440.5,475.3 441.0,464.0 441.5,476.0 442.0,467.3 442.5,478.0 443.0,469.5 443.5,477.9 444.0,468.4 444.5,478.8 445.0,466.5 445.5,478.4 446.0,469.7 446.5,481.3 447.0,469.6 447.5,482.1 448.0,469.3 448.5,482.2 449.0,471.3 449.5,480.5 450.0,469.8 450.5,481.6 451.0,470.3 451.5,483.1 452.0,470.9 452.5,481.9 453.0,472.9 453.5,485.7 454.0,473.2 454.5,483.3 455.0,472.9 455.5,483.6 456.0,472.5 456.5,483.0 457.0,472.3 457.5,485.6 458.0,475.3 458.5,487.4 459.0,475.8 459.5,484.7 460.0,476.0 460.5,484.9 461.0,472.2 461.5,484.2 462.0,473.0 462.5,485.0 463.0,473.9 463.5,482.0 464.0,471.2 464.5,484.7 465.0,471.5 465.5,483.2 466.0,470.4 466.5,482.1 467.0,469.5 467.5,482.5 468.0,470.3 468.5,480.1 469.0,467.6 469.5,478.6 470.0,469.0 470.5,479.6 471.0,466.8 471.5,477.2 472.0,464.5 472.5,477.4 473.0,465.9 473.5,474.6 474.0,465.7 474.5,474.5 475.0,463.7 475.5,475.5 476.0,461.7 476.5,472.8 477.0,461.1 477.5,471.5 478.0,460.1 478.5,471.2 479.0,456.8 479.5,469.7 480.0,458.6 480.5,467.9 481.0,454.2 481.5,465.7 482.0,452.3 482.5,466.2 483.0,451.6 483.5,464.7 484.0,451.9 484.5,465.0 485.0,453.6 485.5,463.4 486.0,450.6 486.5,462.6 487.0,451.6 487.5,459.6 488.0,449.5 488.5,462.1 489.0,450.7 489.5,459.7 490.0,450.3 490.5,458.0 491.0,447.6 491.5,460.9 492.0,446.3 492.5,457.6 493.0,445.8 493.5,455.7 494.0,445.0 494.5,457.0 495.0,449.0 495.5,458.8 496.0,449.0 496.5,457.9 497.0,449.5 497.5,458.6 498.0,446.9 498.5,459.4 499.0,448.9 499.5,459.0 500.0,448.1 500.5,456.7 501.0,446.1 501.5,457.0 502.0,447.0 502.5,457.3 503.0,447.4 503.5,457.9 504.0,446.5 504.5,457.8 505.0,444.1 505.5,456.0 506.0,446.8 506.5,456.9 507.0,446.7 507.5,455.7 508.0,444.9 508.5,453.9 509.0,444.0 509.5,456.0 510.0,443.5 510.5,454.9 511.0,444.3 511.5,455.3 512.0,445.5 512.5,456.6 513.0,441.8 513.5,456.1 514.0,441.8 514.5,454.1 515.0,441.9 515.5,452.9 516.0,443.9 516.5,453.0 517.0,443.7 517.5,455.4 518.0,442.7 518.5,454.5 519.0,444.2 519.5,453.6 520.0,444.8 520.5,454.9 521.0,446.4 521.5,457.6 522.0,445.5 522.5,457.0 523.0,447.9 523.5,458.3 524.0,448.2 524.5,457.1 525.0,446.7 525.5,459.4 526.0,445.9 526.5,460.3 527.0,446.5 527.5,461.5 528.0,447.7 528.5,460.5 529.0,450.6 529.5,458.5 530.0,451.0 530.5,461.7 531.1,448.6 531.6,461.7 532.1,451.5 532.6,461.8 533.2,453.2 533.7,464.2 534.2,451.1 534.8,464.1 535.3,456.4 535.8,464.3 536.3,455.7 536.9,467.9 537.4,454.7 537.9,466.5 538.4,457.2 538.9,464.2 539.4,455.7 539.9,466.2 540.4,454.3 540.9,466.9 541.4,451.4 541.9,464.9 542.4,452.1 542.9,463.9 543.4,453.0 543.9,460.2 544.4,450.6 544.9,461.6 545.4,450.7 546.0,458.4 546.5,449.4 547.0,459.7 547.5,445.5 548.0,457.9 548.6,441.9 549.1,453.4 549.6,441.3 550.2,451.7 550.7,439.2 551.2,451.9 551.7,440.5 552.3,447.3 552.8,438.4 553.3,448.3 553.9,436.8 554.4,444.9 554.9,434.1 555.5,447.3 556.0,434.1 556.5,442.3 557.1,430.5 557.6,442.5 558.1,433.1 558.7,441.7 559.2,430.0 559.7,442.4 560.3,430.0 560.8,441.3 561.3,430.4 561.9,438.9 562.4,426.6 562.9,438.8 563.5,429.4 564.0,439.2 564.5,429.4 565.0,437.3 565.5,427.5 566.0,438.4 566.5,426.9 567.0,439.4 567.5,427.4 568.0,436.1 568.5,425.9 569.0,436.0 569.5,427.0 570.0,437.5 570.5,426.1 571.0,438.2 571.5,427.6 572.0,438.0 572.5,425.3 573.0,437.1 573.5,428.3 574.0,439.2 574.5,426.1 575.0,436.1 575.5,427.8 576.0,439.7 576.5,428.1 577.0,437.5 577.5,426.1 578.1,439.7 578.6,427.5 579.1,440.7 579.6,430.2 580.1,437.9 580.6,427.1 581.1,441.7 581.6,431.7 582.1,439.2 582.6,431.2 583.1,442.9 583.6,431.1 584.1,442.0 584.6,429.1 585.1,442.8 585.6,429.8 586.1,441.3 586.6,433.0 587.1,440.9 587.6,430.8 588.1,441.4 588.7,430.0 589.2,443.8 589.7,433.1 590.2,443.7 590.7,432.7 591.2,442.3 591.7,433.5 592.2,444.1 592.7,430.3 593.2,444.4 593.7,433.5 594.2,443.9 594.7,431.1 595.2,443.2 595.7,431.5 596.2,443.1 596.8,431.3 597.3,444.1 597.8,433.5 598.3,440.9 598.8,431.3 599.3,441.6 599.8,431.9 600.3,440.9 600.8,431.1 601.3,441.8 601.9,431.4 602.4,445.5 602.9,433.6 603.4,442.7 603.9,432.4 604.4,443.1 604.9,434.2 605.4,443.5 605.9,432.6 606.4,445.8 606.9,435.8 607.4,444.4 607.9,434.3 608.4,448.2 608.9,434.4 609.4,445.1 610.0,436.0 610.5,445.6 611.0,434.4 611.5,445.5 612.0,435.5 612.5,449.0 613.0,435.0 613.5,445.5 614.0,438.8 614.5,447.0 615.0,436.7 615.5,449.2 616.0,438.3 616.5,449.3 617.0,438.5 617.5,450.0 618.0,438.3 618.5,451.5 619.0,437.6 619.5,450.5 620.0,436.7 620.5,451.2 621.0,438.2 621.5,448.6 622.0,438.5 622.5,451.5 623.0,439.7 623.5,452.1 624.0,440.2 624.6,451.2 625.1,437.8 625.6,448.4 626.2,436.8 626.7,445.0 627.2,435.0 627.8,443.9 628.3,434.7 628.8,443.3 629.4,429.8 629.9,442.8 630.4,428.7 630.9,442.6 631.4,429.0 631.9,443.5 632.4,428.8 632.9,439.7 633.4,430.6 633.9,439.8 634.4,430.3 634.9,437.7 635.4,425.7 635.9,439.9 636.4,427.3 636.9,438.7 637.4,425.2 637.9,438.7 638.4,424.8 638.9,437.3 639.5,428.1 640.0,439.1 640.5,427.5 641.0,438.7 641.6,427.6 642.1,438.6 642.6,426.0 643.2,437.9 643.7,428.1 644.2,440.2 644.7,429.1 645.3,442.0 645.8,429.5 646.3,442.2 646.9,429.6 647.4,443.3 647.9,432.0 648.5,440.6 649.0,432.2 649.5,444.7 650.1,434.3 650.6,443.3 651.1,432.5 651.7,447.0 652.2,435.3 652.7,445.2 653.3,434.3 653.8,447.4 654.3,435.6 654.8,449.6 655.4,439.3 655.9,449.7 656.4,442.4 657.0,452.9 657.5,443.0 658.0,453.1 658.5,442.6 659.1,456.6 659.6,445.2 660.1,458.2 660.6,446.6 661.1,459.9 661.6,449.6 662.1,458.9 662.6,451.8 663.1,460.1 663.6,452.2 664.1,461.7 664.6,454.7 665.1,464.4 665.6,452.4 666.1,466.3 666.6,456.2 667.1,467.9 667.6,458.7 668.2,467.6 668.7,460.3 669.2,471.3 669.7,461.6 670.3,474.8 670.8,464.4 671.3,475.6 671.9,465.4 672.4,478.5 672.9,468.0 673.4,479.4 674.0,469.9 674.5,482.6 675.0,472.4 675.5,486.7 676.0,475.2 676.5,486.6 677.0,479.4 677.5,487.8 678.0,477.6 678.5,490.1 679.0,480.5 679.5,493.6 680.0,482.8 680.5,493.8 681.0,486.2 681.5,495.0 682.0,484.9 682.5,497.9 683.0,487.8 683.5,500.4 684.0,490.7 684.5,499.6 685.0,493.2 685.5,504.0 686.0,494.0 686.5,505.8 687.0,494.4 687.5,506.7 688.0,496.5 688.5,508.1 689.0,498.0 689.5,507.8 690.0,497.3 690.5,507.0 691.0,499.7 691.5,511.0 692.0,500.3 692.5,509.8 693.0,498.7 693.5,509.5 694.0,500.8 694.5,509.9 695.0,500.3 695.5,510.5 696.0,500.2 696.5,512.1 697.0,500.4 697.5,511.7 698.0,501.6 698.5,514.6 699.0,503.8 699.5,512.3 700.0,503.2 700.5,511.6 701.0,501.2 701.6,512.1 702.1,500.6 702.6,507.3 703.1,497.6 703.7,506.2 704.2,497.2 704.7,505.7" fill="none" stroke="#c23531" stroke-width="1.3"/></g>

  <g fill="#fff" stroke="#c23531" stroke-width="1"><circle cx="119.5" cy="202.5" r="1.8"/><circle cx="240.3" cy="133.3" r="1.8"/><circle cx="360.5" cy="207.8" r="1.8"/><circle cx="481" cy="169.3" r="1.8"/><circle cx="602" cy="181.6" r="1.8"/><circle cx="115.7" cy="532" r="1.8"/><circle cx="236.4" cy="493" r="1.8"/><circle cx="356.6" cy="447.5" r="1.8"/><circle cx="478.2" cy="463.4" r="1.8"/><circle cx="598" cy="436.2" r="1.8"/></g>
  <defs><filter id="ts" x="-30%" y="-30%" width="160%" height="180%"><feDropShadow dx="1.5" dy="4" stdDeviation="2.2" flood-color="#000" flood-opacity="0.35"/></filter></defs>
  <g filter="url(#ts)">
<text class="blue" x="899.5" y="153.8">测</text>
<text class="blue" x="926.5" y="153.8">试</text>
<text class="blue" x="953.5" y="153.8">时</text>
<text class="blue" x="980.5" y="153.8">间</text>
<text class="blue" x="998.5" y="153.8">:</text>
<text class="red" x="893.1" y="217.4">2</text>
<text class="red" x="906" y="217.4">0</text>
<text class="red" x="919.1" y="217.4">2</text>
<text class="red" x="932" y="217.4">0</text>
<text class="redk" x="953.3" y="217.4">年</text>
<text class="red" x="973.4" y="217.4">1</text>
<text class="redk" x="991" y="217.4">月</text>
<text class="red" x="1013.5" y="217.4">1</text>
<text class="red" x="1026.4" y="217.4">2</text>
<text class="redk" x="1046.6" y="217.4">日</text>
<text class="red" x="1065" y="217.4">;</text>
<text class="blue" x="900" y="280.8">室</text>
<text class="blue" x="926.5" y="280.8">外</text>
<text class="blue" x="953.5" y="280.8">温</text>
<text class="blue" x="979.3" y="280.8">度</text>
<text class="blue" x="998.5" y="280.8">:</text>
<text class="red" x="906" y="344">2</text>
<text class="red" x="919.1" y="344">5</text>
<text class="red" x="930" y="344">.</text>
<text class="red" x="946" y="344">0</text>
<text class="red" x="959.9" y="344">1</text>
<text class="red" x="1000.1" y="344">5</text>
<text class="red" x="1052.4" y="344">;</text>
<text class="blue" x="900" y="407.1">室</text>
<text class="blue" x="926.5" y="407.1">内</text>
<text class="blue" x="953.5" y="407.1">温</text>
<text class="blue" x="979.3" y="407.1">度</text>
<text class="blue" x="998.5" y="407.1">:</text>
<text class="red" x="906.4" y="470.3">9</text>
<text class="red" x="960" y="470.3">1</text>
<text class="red" x="972.5" y="470.3">4</text>
<text class="red" x="982.6" y="470.3">.</text>
<text class="red" x="999" y="470.3">9</text>
<text class="red" x="1012.3" y="470.3">8</text>
<text class="redc" x="1022.3" y="344">C</text>
<circle cx="1011.6" cy="327.8" r="2.1" fill="none" stroke="#c80000" stroke-width="1.5"/>
<text class="redc" x="928.8" y="470.3">C</text>
<circle cx="918.4" cy="454" r="2.1" fill="none" stroke="#c80000" stroke-width="1.5"/>
<text class="redc" x="1035.4" y="470.3">C</text>
<circle cx="1024.8" cy="454" r="2.1" fill="none" stroke="#c80000" stroke-width="1.5"/>
<path d="M887,334.5 H899.7 M980.2,334.7 H993.3 M887,460.6 H899.3" stroke="#c80000" stroke-width="1.5" fill="none"/>
<path d="M893.4,454 V467.3" stroke="#c80000" stroke-width="2" fill="none"/>
<text class="redk" x="1073" y="467.6">。</text>
<path d="M967,326 C969,321 971.5,321 973.5,323.5 S978,326.5 979.5,321.5" fill="none" stroke="#c80000" stroke-width="1.7"/>
<path d="M940.6,454 C942.6,449 945.1,449 947.1,451.5 S951.6,454.5 953.1,449.5" fill="none" stroke="#c80000" stroke-width="1.7"/>
  </g>
</svg>


</body></html>
